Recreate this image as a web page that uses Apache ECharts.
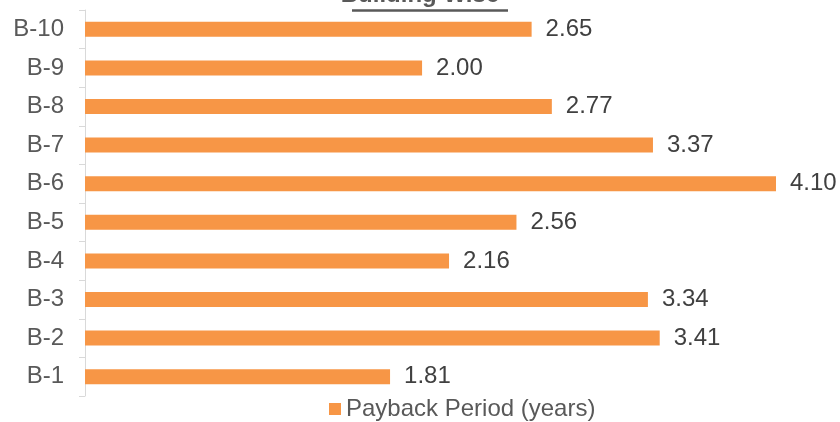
<!DOCTYPE html>
<html>
<head>
<meta charset="utf-8">
<script src="https://cdn.jsdelivr.net/npm/echarts@6/dist/echarts.min.js"></script>
<style>html,body{margin:0;padding:0;background:#fff;}#c{width:840px;height:422px;}</style>
</head>
<body>
<div id="c"></div>
<script>
const categories = ['B-1','B-2','B-3','B-4','B-5','B-6','B-7','B-8','B-9','B-10'];
const paybackYears = [1.81, 3.41, 3.34, 2.16, 2.56, 4.10, 3.37, 2.77, 2.00, 2.65];
const seriesName = 'Payback Period (years)';
const titleText = 'Building Wise';

const chart = echarts.init(document.getElementById('c'));
chart.setOption({
  animation: false,
  backgroundColor: '#ffffff',
  textStyle: { fontFamily: 'Liberation Sans, Arial, sans-serif' },
  title: {
    text: titleText,
    left: 'center',
    top: -17,
    padding: 0,
    textStyle: { fontFamily: 'Liberation Sans, Arial, sans-serif', fontSize: 24, fontWeight: 'bold', color: '#595959' }
  },
  graphic: [{
    type: 'line',
    shape: { x1: 352, y1: 10.5, x2: 508, y2: 10.5 },
    style: { stroke: '#595959', lineWidth: 2.5 },
    silent: true
  }],
  legend: {
    data: [seriesName],
    left: 329,
    top: 397,
    padding: 0,
    itemWidth: 12,
    itemHeight: 12,
    itemGap: 5,
    icon: 'rect',
    textStyle: { fontFamily: 'Liberation Sans, Arial, sans-serif', fontSize: 24, color: '#595959', padding: [0,0,0,0] }
  },
  grid: { left: 85, right: 64, top: 10, bottom: 26, containLabel: false },
  xAxis: { type: 'value', min: 0, max: 4.1, show: false },
  yAxis: {
    type: 'category',
    data: categories,
    axisLine: { show: true, lineStyle: { color: '#d9d9d9', width: 1 } },
    axisTick: { show: true, length: 6, lineStyle: { color: '#d9d9d9' } },
    axisLabel: { margin: 21, fontSize: 24, color: '#595959', fontFamily: 'Liberation Sans, Arial, sans-serif' },
    splitLine: { show: false }
  },
  series: [{
    name: seriesName,
    type: 'bar',
    data: paybackYears,
    barWidth: 15,
    itemStyle: { color: '#F79646' },
    label: {
      show: true,
      position: 'right',
      distance: 14,
      fontSize: 24,
      color: '#404040',
      fontFamily: 'Liberation Sans, Arial, sans-serif',
      formatter: p => p.value.toFixed(2)
    }
  }]
});
</script>
</body>
</html>
